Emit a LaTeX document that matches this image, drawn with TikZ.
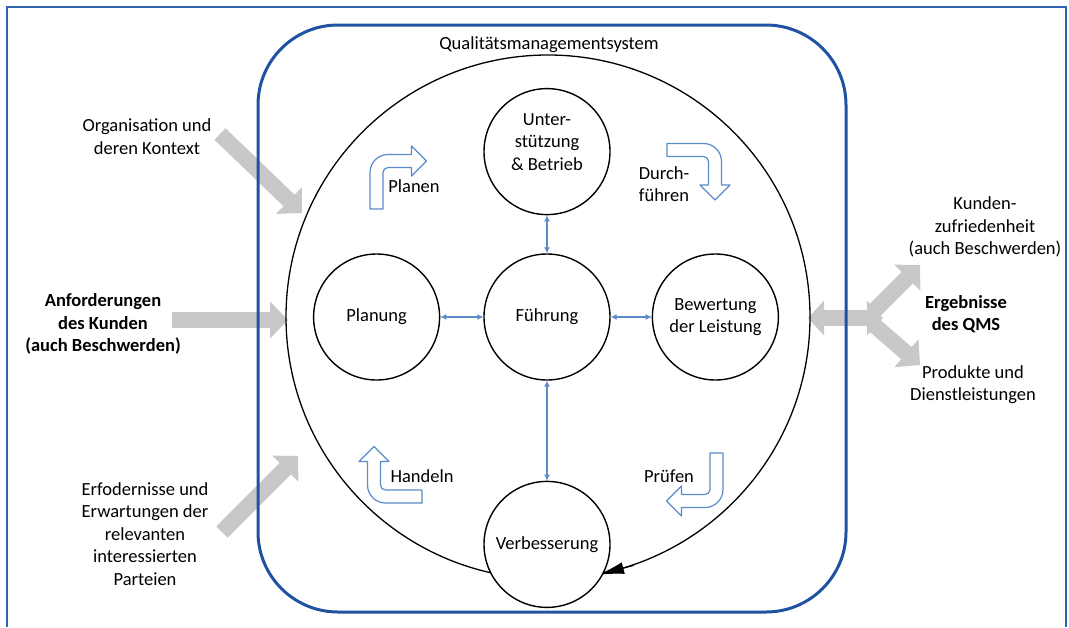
\documentclass[tikz,border=0pt]{standalone}
\usepackage{fontspec}
\setmainfont{Carlito}
\usetikzlibrary{arrows.meta,positioning}
\definecolor{qmsblue}{HTML}{1F52A0}
\definecolor{frameblue}{HTML}{2F63AF}
\definecolor{linkblue}{HTML}{5B8BC8}
\definecolor{inputgray}{HTML}{C8C8C8}
\newcommand\qmsfont{\fontsize{18.5}{22.5}\selectfont}
\newcommand\bentarrow[3]{%
  \begin{scope}[shift={(#1,#2)},rotate=#3]
    \draw[bendarrow] (-6.5,48) -- (-6.5,11.5) arc[start angle=180,end angle=270,radius=18]
      -- (35,-6.5) -- (35,-15) -- (50,0) -- (35,15) -- (35,6.5)
      -- (11.5,6.5) arc[start angle=270,end angle=180,radius=5] -- (6.5,48) -- cycle;
  \end{scope}}

\begin{document}
\begin{tikzpicture}[
  x=1pt,y=-1pt,
  font=\qmsfont,
  phase/.style={circle,draw,line width=1.4pt,fill=white,minimum size=126pt,inner sep=0pt,align=center},
  link/.style={{Latex[length=6pt,width=6pt]}-{Latex[length=6pt,width=6pt]},linkblue,line width=1.3pt},
  bendarrow/.style={draw=linkblue,line width=1.2pt,fill=white,line join=round},
  inflow/.style={inputgray,line width=16pt,-{Triangle[length=18pt,width=36pt]}},
  outflow/.style={inputgray,line width=16pt,{Triangle[length=16pt,width=34pt]}-{Triangle[length=16pt,width=34pt]}},
  label/.style={align=center,inner sep=0pt}
]
\useasboundingbox (0,0) rectangle (1069,627);
\draw[frameblue,line width=1.6pt] (7,627) -- (7,7) -- (1066,7) -- (1066,627);

% inputs and results
\coordinate (kontextA) at (220,134);
\coordinate (kontextB) at (302,213);
\coordinate (kundeA) at (172,320);
\coordinate (kundeB) at (288,320);
\coordinate (parteiA) at (222,532);
\coordinate (parteiB) at (298,456);
\coordinate (qmsL) at (808,318);
\coordinate (qmsR) at (883,318);
\coordinate (zufrA) at (874,311);
\coordinate (zufrB) at (920,265);
\coordinate (prodA) at (874,325);
\coordinate (prodB) at (920,365);
\draw[inflow] (kontextA) -- (kontextB);
\draw[inflow] (kundeA) -- (kundeB);
\draw[inflow] (parteiA) -- (parteiB);
\draw[outflow] (qmsL) -- (qmsR);
\draw[inflow] (zufrA) -- (zufrB);
\draw[inflow] (prodA) -- (prodB);

\draw[qmsblue,line width=3pt,rounded corners=80pt] (258,25) rectangle (846,612);
\node[label] (qms) at (549,45) {Qualitätsmanagementsystem};

% PDCA ring
\node[circle,draw,line width=1.3pt,minimum size=524pt,inner sep=0pt] (ring) at (548,317) {};
\draw[line width=1.3pt,-{Latex[length=26pt,width=12pt]}] (ring.-71) -- (ring.-79);

\node[phase] (fuehrung) at (547,317) {Führung};
\node[phase,left=43pt of fuehrung] (planung) {Planung};
\node[phase,right=41pt of fuehrung] (bewertung) {Bewertung\\der Leistung};
\node[phase,above=38pt of fuehrung] (unterstuetzung) {};
\node[label] (unterstuetzungtext) at (547,142) {Unter-\\stützung\\\&~Betrieb};
\node[phase,below=100pt of fuehrung] (verbesserung) {Verbesserung};
\draw[link] (planung) -- (fuehrung);
\draw[link] (fuehrung) -- (bewertung);
\draw[link] (unterstuetzung) -- (fuehrung);
\draw[link] (fuehrung) -- (verbesserung);

\bentarrow{376.5}{161}{0}
\bentarrow{715}{150}{-90}
\bentarrow{716.5}{501}{180}
\bentarrow{374}{496.5}{90}
\node[label] (planen) at (414,186) {Planen};
\node[label] (durchfuehren) at (664,184) {Durch-\\führen};
\node[label] (pruefen) at (669,476) {Prüfen};
\node[label] (handeln) at (422,476) {Handeln};

% texts outside
\node[label] (kontext) at (147,136.5) {Organisation und\\deren Kontext};
\node[label,font=\qmsfont\bfseries] (kunde) at (103,324) {Anforderungen\\des Kunden\\(auch Beschwerden)};
\node[label] (parteien) at (145,534) {Erfodernisse und\\Erwartungen der\\relevanten\\interessierten\\Parteien};
\node[label] (zufriedenheit) at (985,227) {Kunden-\\zufriedenheit\\(auch Beschwerden)};
\node[label,font=\qmsfont\bfseries] (ergebnisse) at (966,314) {Ergebnisse\\des QMS};
\node[label] (produkte) at (973,384.5) {Produkte und\\Dienstleistungen};
\end{tikzpicture}
\end{document}
